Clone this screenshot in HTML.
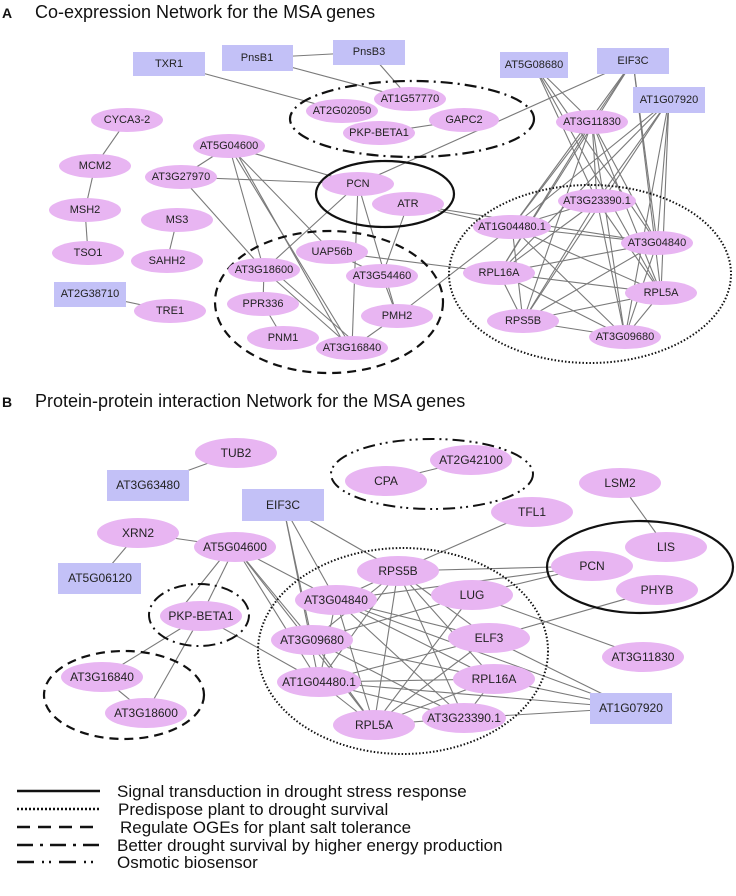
<!DOCTYPE html>
<html><head><meta charset="utf-8"><style>
html,body{margin:0;padding:0;background:#fff;width:736px;height:896px;overflow:hidden}
svg{display:block}
.e line{stroke:#7a7a7a;stroke-width:1.1}
.n ellipse{fill:#e8b5f2}
.n rect{fill:#c3c1f7}
.n text{font-family:"Liberation Sans",Arial,sans-serif;font-size:11px;fill:#222;text-anchor:middle;dominant-baseline:central}
.b text{font-size:12px}
.g{fill:none;stroke:#111}
.t{font-family:"Liberation Sans",Arial,sans-serif;fill:#111}
</style></head><body>
<svg width="736" height="896" viewBox="0 0 736 896">
<text class="t" x="2" y="18" font-size="14" font-weight="bold">A</text>
<text class="t" x="35" y="18" font-size="18">Co-expression Network for the MSA genes</text>
<text class="t" x="2" y="407" font-size="14" font-weight="bold">B</text>
<text class="t" x="35" y="407" font-size="18">Protein-protein interaction Network for the MSA genes</text>

<!-- A edges -->
<g class="e">
<line x1="169" y1="64" x2="342" y2="111"/><line x1="257" y1="58" x2="369" y2="52"/>
<line x1="257" y1="58" x2="410" y2="99"/><line x1="369" y1="52" x2="410" y2="99"/>
<line x1="379" y1="133" x2="464" y2="120"/><line x1="127" y1="120" x2="95" y2="166"/>
<line x1="95" y1="166" x2="85" y2="210"/><line x1="85" y1="210" x2="88" y2="253"/>
<line x1="177" y1="220" x2="167" y2="261"/><line x1="90" y1="294" x2="170" y2="311"/>
<line x1="229" y1="146" x2="181" y2="177"/><line x1="229" y1="146" x2="358" y2="184"/>
<line x1="229" y1="146" x2="264" y2="270"/><line x1="229" y1="146" x2="352" y2="348"/>
<line x1="235" y1="150" x2="345" y2="345"/><line x1="229" y1="146" x2="332" y2="252"/>
<line x1="181" y1="177" x2="358" y2="184"/><line x1="181" y1="177" x2="264" y2="270"/>
<line x1="358" y1="184" x2="633" y2="61"/><line x1="358" y1="184" x2="264" y2="270"/>
<line x1="358" y1="184" x2="352" y2="348"/><line x1="358" y1="184" x2="397" y2="316"/>
<line x1="408" y1="204" x2="382" y2="276"/><line x1="408" y1="204" x2="512" y2="227"/>
<line x1="408" y1="204" x2="657" y2="243"/><line x1="332" y1="252" x2="382" y2="276"/>
<line x1="332" y1="252" x2="499" y2="273"/><line x1="382" y1="276" x2="397" y2="316"/>
<line x1="264" y1="270" x2="263" y2="304"/><line x1="264" y1="270" x2="352" y2="348"/>
<line x1="270" y1="268" x2="358" y2="345"/><line x1="263" y1="304" x2="283" y2="338"/>
<line x1="397" y1="316" x2="352" y2="348"/><line x1="397" y1="316" x2="512" y2="227"/>
<line x1="534" y1="65" x2="657" y2="243"/><line x1="534" y1="65" x2="661" y2="293"/>
<line x1="534" y1="65" x2="597" y2="201"/><line x1="534" y1="65" x2="592" y2="122"/>
<line x1="633" y1="61" x2="592" y2="122"/><line x1="633" y1="61" x2="512" y2="227"/>
<line x1="633" y1="61" x2="499" y2="273"/><line x1="633" y1="61" x2="661" y2="293"/>
<line x1="633" y1="61" x2="657" y2="243"/>
<line x1="669" y1="100" x2="512" y2="227"/><line x1="669" y1="100" x2="499" y2="273"/>
<line x1="669" y1="100" x2="523" y2="321"/><line x1="669" y1="100" x2="625" y2="337"/>
<line x1="669" y1="100" x2="661" y2="293"/><line x1="669" y1="100" x2="657" y2="243"/>
<line x1="669" y1="100" x2="597" y2="201"/>
<line x1="592" y1="122" x2="499" y2="273"/><line x1="592" y1="122" x2="523" y2="321"/>
<line x1="592" y1="122" x2="512" y2="227"/><line x1="592" y1="122" x2="657" y2="243"/>
<line x1="592" y1="122" x2="661" y2="293"/><line x1="592" y1="122" x2="625" y2="337"/>
<line x1="592" y1="122" x2="597" y2="201"/>
<line x1="597" y1="201" x2="512" y2="227"/><line x1="597" y1="201" x2="523" y2="321"/>
<line x1="597" y1="201" x2="625" y2="337"/><line x1="597" y1="201" x2="499" y2="273"/>
<line x1="597" y1="201" x2="661" y2="293"/>
<line x1="512" y1="227" x2="657" y2="243"/><line x1="512" y1="227" x2="661" y2="293"/>
<line x1="512" y1="227" x2="523" y2="321"/><line x1="512" y1="227" x2="625" y2="337"/>
<line x1="499" y1="273" x2="657" y2="243"/><line x1="499" y1="273" x2="661" y2="293"/>
<line x1="499" y1="273" x2="625" y2="337"/><line x1="499" y1="273" x2="523" y2="321"/>
<line x1="523" y1="321" x2="661" y2="293"/><line x1="523" y1="321" x2="625" y2="337"/>
<line x1="657" y1="243" x2="625" y2="337"/><line x1="661" y1="293" x2="625" y2="337"/>
<line x1="657" y1="243" x2="523" y2="321"/>
</g>

<!-- A group outlines -->
<ellipse class="g" cx="412" cy="119" rx="122" ry="38" stroke-width="2.2" stroke-dasharray="12,5,2,5"/>
<ellipse class="g" cx="385" cy="194" rx="69" ry="33" stroke-width="2.2"/>
<ellipse class="g" cx="329" cy="302" rx="114" ry="71" stroke-width="2.2" stroke-dasharray="9,6"/>
<ellipse class="g" cx="590" cy="274" rx="141" ry="89" stroke-width="2" stroke-dasharray="1.5,2"/>

<!-- A nodes -->
<g class="n">
<rect x="133" y="52" width="72" height="24"/><text x="169" y="64">TXR1</text>
<rect x="222" y="45" width="71" height="26"/><text x="257" y="58">PnsB1</text>
<rect x="333" y="40" width="72" height="25"/><text x="369" y="52">PnsB3</text>
<rect x="500" y="52" width="68" height="26"/><text x="534" y="65">AT5G08680</text>
<rect x="597" y="48" width="72" height="26"/><text x="633" y="61">EIF3C</text>
<rect x="633" y="87" width="72" height="26"/><text x="669" y="100">AT1G07920</text>
<rect x="54" y="282" width="72" height="25"/><text x="90" y="294">AT2G38710</text>
<ellipse cx="410" cy="99" rx="36" ry="12"/><text x="410" y="99">AT1G57770</text>
<ellipse cx="342" cy="111" rx="36" ry="12"/><text x="342" y="111">AT2G02050</text>
<ellipse cx="379" cy="133" rx="36" ry="12"/><text x="379" y="133">PKP-BETA1</text>
<ellipse cx="464" cy="120" rx="35" ry="12"/><text x="464" y="120">GAPC2</text>
<ellipse cx="127" cy="120" rx="36" ry="12"/><text x="127" y="120">CYCA3-2</text>
<ellipse cx="95" cy="166" rx="36" ry="12"/><text x="95" y="166">MCM2</text>
<ellipse cx="85" cy="210" rx="36" ry="12"/><text x="85" y="210">MSH2</text>
<ellipse cx="88" cy="253" rx="36" ry="12"/><text x="88" y="253">TSO1</text>
<ellipse cx="177" cy="220" rx="36" ry="12"/><text x="177" y="220">MS3</text>
<ellipse cx="167" cy="261" rx="36" ry="12"/><text x="167" y="261">SAHH2</text>
<ellipse cx="170" cy="311" rx="36" ry="12"/><text x="170" y="311">TRE1</text>
<ellipse cx="229" cy="146" rx="36" ry="12"/><text x="229" y="146">AT5G04600</text>
<ellipse cx="181" cy="177" rx="36" ry="12"/><text x="181" y="177">AT3G27970</text>
<ellipse cx="358" cy="184" rx="36" ry="12"/><text x="358" y="184">PCN</text>
<ellipse cx="408" cy="204" rx="36" ry="12"/><text x="408" y="204">ATR</text>
<ellipse cx="332" cy="252" rx="36" ry="12"/><text x="332" y="252">UAP56b</text>
<ellipse cx="264" cy="270" rx="36" ry="12"/><text x="264" y="270">AT3G18600</text>
<ellipse cx="382" cy="276" rx="36" ry="12"/><text x="382" y="276">AT3G54460</text>
<ellipse cx="263" cy="304" rx="36" ry="12"/><text x="263" y="304">PPR336</text>
<ellipse cx="397" cy="316" rx="36" ry="12"/><text x="397" y="316">PMH2</text>
<ellipse cx="283" cy="338" rx="36" ry="12"/><text x="283" y="338">PNM1</text>
<ellipse cx="352" cy="348" rx="36" ry="12"/><text x="352" y="348">AT3G16840</text>
<ellipse cx="592" cy="122" rx="36" ry="12"/><text x="592" y="122">AT3G11830</text>
<ellipse cx="597" cy="201" rx="39" ry="12"/><text x="597" y="201">AT3G23390.1</text>
<ellipse cx="512" cy="227" rx="39" ry="12"/><text x="512" y="227">AT1G04480.1</text>
<ellipse cx="657" cy="243" rx="36" ry="12"/><text x="657" y="243">AT3G04840</text>
<ellipse cx="499" cy="273" rx="36" ry="12"/><text x="499" y="273">RPL16A</text>
<ellipse cx="661" cy="293" rx="36" ry="12"/><text x="661" y="293">RPL5A</text>
<ellipse cx="523" cy="321" rx="36" ry="12"/><text x="523" y="321">RPS5B</text>
<ellipse cx="625" cy="337" rx="36" ry="12"/><text x="625" y="337">AT3G09680</text>
</g>

<!-- B edges -->
<g class="e">
<line x1="236" y1="453" x2="148" y2="485"/><line x1="138" y1="533" x2="235" y2="547"/>
<line x1="138" y1="533" x2="100" y2="578"/><line x1="386" y1="481" x2="471" y2="460"/>
<line x1="620" y1="483" x2="666" y2="547"/><line x1="532" y1="512" x2="398" y2="571"/>
<line x1="283" y1="505" x2="398" y2="571"/><line x1="283" y1="505" x2="312" y2="640"/>
<line x1="283" y1="505" x2="319" y2="682"/><line x1="283" y1="505" x2="336" y2="600"/>
<line x1="235" y1="547" x2="201" y2="616"/><line x1="228" y1="550" x2="180" y2="610"/>
<line x1="235" y1="547" x2="336" y2="600"/><line x1="235" y1="547" x2="312" y2="640"/>
<line x1="235" y1="547" x2="319" y2="682"/><line x1="235" y1="547" x2="374" y2="725"/>
<line x1="201" y1="616" x2="102" y2="677"/><line x1="201" y1="616" x2="146" y2="713"/>
<line x1="201" y1="616" x2="319" y2="682"/><line x1="102" y1="677" x2="146" y2="713"/>
<line x1="398" y1="571" x2="592" y2="566"/><line x1="336" y1="600" x2="592" y2="566"/>
<line x1="472" y1="595" x2="592" y2="566"/><line x1="657" y1="590" x2="489" y2="638"/>
<line x1="472" y1="595" x2="643" y2="657"/><line x1="489" y1="638" x2="631" y2="708"/>
<line x1="494" y1="679" x2="631" y2="708"/><line x1="319" y1="682" x2="631" y2="708"/>
<line x1="464" y1="718" x2="631" y2="708"/><line x1="336" y1="600" x2="631" y2="708"/>
<line x1="398" y1="571" x2="336" y2="600"/><line x1="398" y1="571" x2="312" y2="640"/>
<line x1="398" y1="571" x2="319" y2="682"/><line x1="398" y1="571" x2="374" y2="725"/>
<line x1="398" y1="571" x2="464" y2="718"/><line x1="398" y1="571" x2="494" y2="679"/>
<line x1="398" y1="571" x2="489" y2="638"/>
<line x1="336" y1="600" x2="494" y2="679"/><line x1="336" y1="600" x2="464" y2="718"/>
<line x1="336" y1="600" x2="374" y2="725"/><line x1="336" y1="600" x2="489" y2="638"/>
<line x1="336" y1="600" x2="319" y2="682"/>
<line x1="472" y1="595" x2="312" y2="640"/><line x1="472" y1="595" x2="374" y2="725"/>
<line x1="312" y1="640" x2="494" y2="679"/><line x1="312" y1="640" x2="464" y2="718"/>
<line x1="312" y1="640" x2="374" y2="725"/>
<line x1="489" y1="638" x2="319" y2="682"/><line x1="489" y1="638" x2="374" y2="725"/>
<line x1="319" y1="682" x2="494" y2="679"/><line x1="319" y1="682" x2="464" y2="718"/>
<line x1="319" y1="682" x2="374" y2="725"/>
<line x1="494" y1="679" x2="374" y2="725"/><line x1="494" y1="679" x2="464" y2="718"/>
<line x1="374" y1="725" x2="464" y2="718"/>
</g>

<!-- B group outlines -->
<ellipse class="g" cx="432" cy="474" rx="101" ry="35" stroke-width="2" stroke-dasharray="12,5,2,4,2,5"/>
<ellipse class="g" cx="640" cy="567" rx="93" ry="46" stroke-width="2.2"/>
<ellipse class="g" cx="199" cy="615" rx="50" ry="31" stroke-width="2" stroke-dasharray="12,5,2,5"/>
<ellipse class="g" cx="124" cy="695" rx="80" ry="44" stroke-width="2.2" stroke-dasharray="9,6"/>
<ellipse class="g" cx="403" cy="651" rx="145" ry="103" stroke-width="2" stroke-dasharray="1.5,2"/>

<!-- B nodes -->
<g class="n b">
<rect x="107" y="470" width="82" height="31"/><text x="148" y="485">AT3G63480</text>
<rect x="242" y="489" width="82" height="32"/><text x="283" y="505">EIF3C</text>
<rect x="58" y="563" width="83" height="31"/><text x="100" y="578">AT5G06120</text>
<rect x="590" y="693" width="82" height="31"/><text x="631" y="708">AT1G07920</text>
<ellipse cx="236" cy="453" rx="41" ry="15"/><text x="236" y="453">TUB2</text>
<ellipse cx="386" cy="481" rx="41" ry="15"/><text x="386" y="481">CPA</text>
<ellipse cx="471" cy="460" rx="41" ry="15"/><text x="471" y="460">AT2G42100</text>
<ellipse cx="620" cy="483" rx="41" ry="15"/><text x="620" y="483">LSM2</text>
<ellipse cx="532" cy="512" rx="41" ry="15"/><text x="532" y="512">TFL1</text>
<ellipse cx="138" cy="533" rx="41" ry="15"/><text x="138" y="533">XRN2</text>
<ellipse cx="235" cy="547" rx="41" ry="15"/><text x="235" y="547">AT5G04600</text>
<ellipse cx="666" cy="547" rx="41" ry="15"/><text x="666" y="547">LIS</text>
<ellipse cx="592" cy="566" rx="41" ry="15"/><text x="592" y="566">PCN</text>
<ellipse cx="657" cy="590" rx="41" ry="15"/><text x="657" y="590">PHYB</text>
<ellipse cx="398" cy="571" rx="41" ry="15"/><text x="398" y="571">RPS5B</text>
<ellipse cx="336" cy="600" rx="41" ry="15"/><text x="336" y="600">AT3G04840</text>
<ellipse cx="472" cy="595" rx="41" ry="15"/><text x="472" y="595">LUG</text>
<ellipse cx="201" cy="616" rx="41" ry="15"/><text x="201" y="616">PKP-BETA1</text>
<ellipse cx="312" cy="640" rx="41" ry="15"/><text x="312" y="640">AT3G09680</text>
<ellipse cx="489" cy="638" rx="41" ry="15"/><text x="489" y="638">ELF3</text>
<ellipse cx="643" cy="657" rx="41" ry="15"/><text x="643" y="657">AT3G11830</text>
<ellipse cx="102" cy="677" rx="41" ry="15"/><text x="102" y="677">AT3G16840</text>
<ellipse cx="146" cy="713" rx="41" ry="15"/><text x="146" y="713">AT3G18600</text>
<ellipse cx="319" cy="682" rx="42" ry="15"/><text x="319" y="682">AT1G04480.1</text>
<ellipse cx="494" cy="679" rx="41" ry="15"/><text x="494" y="679">RPL16A</text>
<ellipse cx="374" cy="725" rx="41" ry="15"/><text x="374" y="725">RPL5A</text>
<ellipse cx="464" cy="718" rx="42" ry="15"/><text x="464" y="718">AT3G23390.1</text>
</g>

<!-- Legend -->
<g stroke="#111" stroke-width="2.5" fill="none">
<line x1="17" y1="791" x2="100" y2="791"/>
<line x1="17" y1="809" x2="100" y2="809" stroke-dasharray="2,2"/>
<line x1="17" y1="827" x2="100" y2="827" stroke-dasharray="13,8"/>
<line x1="17" y1="845" x2="100" y2="845" stroke-dasharray="16,7,3,7"/>
<line x1="17" y1="862" x2="100" y2="862" stroke-dasharray="17,8,2,5,2,8"/>
</g>
<g class="t" font-size="17">
<text x="117" y="797">Signal transduction in drought stress response</text>
<text x="118" y="815">Predispose plant to drought survival</text>
<text x="120" y="833">Regulate OGEs for plant salt tolerance</text>
<text x="117" y="851">Better drought survival by higher energy production</text>
<text x="117" y="868">Osmotic biosensor</text>
</g>
</svg>
</body></html>
